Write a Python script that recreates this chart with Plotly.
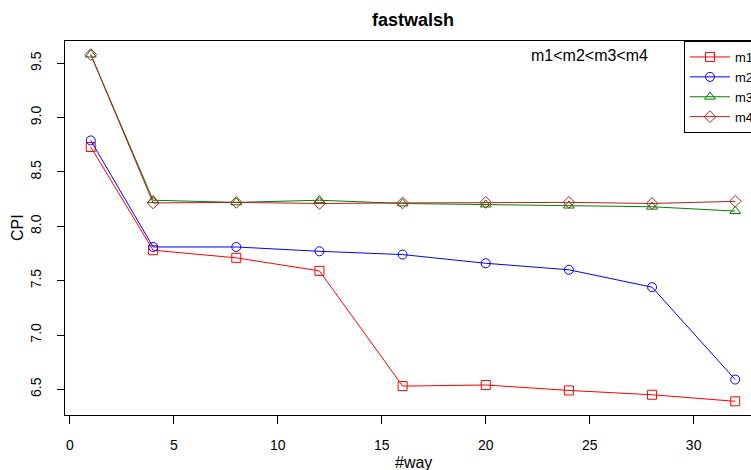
import plotly.graph_objects as go

# associativity (#way) and CPI for each configuration
ways = [1, 4, 8, 12, 16, 20, 24, 28, 32]
m1 = [8.73, 7.78, 7.71, 7.59, 6.53, 6.54, 6.49, 6.45, 6.39]
m2 = [8.79, 7.81, 7.81, 7.77, 7.74, 7.66, 7.60, 7.44, 6.59]
m3 = [9.58, 8.24, 8.22, 8.24, 8.21, 8.20, 8.19, 8.18, 8.14]
m4 = [9.58, 8.215, 8.22, 8.21, 8.215, 8.22, 8.22, 8.21, 8.23]

series_names = ["m1", "m2", "m3", "m4"]
series_vals = [m1, m2, m3, m4]
colors = ["#FF0000", "#0000FF", "#008000", "#B22222"]
symbols = ["square-open", "circle-open", "triangle-up-open", "diamond-open"]
sizes = [9, 9, 9.5, 9]

FONT = "Liberation Sans, Arial, Helvetica, sans-serif"

fig = go.Figure()
for name, vals, c, s, sz in zip(series_names, series_vals, colors, symbols, sizes):
    fig.add_trace(go.Scatter(
        x=ways, y=vals, name=name, mode="lines+markers",
        line=dict(color=c, width=1),
        marker=dict(symbol=s, size=sz, color=c, line=dict(color=c, width=1)),
        cliponaxis=False,
    ))

# the canvas is wider than the viewport; the right strip (plot edge and legend text) runs off-screen
W, H = 775, 470
L, R, T, B = 65, 14, 41, 55
PW = W - L - R

fig.update_layout(
    width=W, height=H,
    margin=dict(l=L, r=R, t=T, b=B, pad=0),
    paper_bgcolor="white", plot_bgcolor="white",
    font=dict(family=FONT, size=14, color="black"),
    showlegend=True,
    legend=dict(
        x=(684 - L) / PW, y=1.0, xanchor="left", yanchor="top",
        bordercolor="black", borderwidth=1, bgcolor="white",
        font=dict(family=FONT, size=13, color="black"),
        itemwidth=40, tracegroupgap=0,
    ),
    xaxis=dict(
        range=[-0.24, 33.24], tickvals=[0, 5, 10, 15, 20, 25, 30],
        showgrid=False, zeroline=False,
        showline=True, linecolor="black", linewidth=1, mirror=True,
        ticks="outside", ticklen=8, tickcolor="black",
        tickfont=dict(family=FONT, size=14), ticklabelstandoff=9,
    ),
    yaxis=dict(
        range=[6.264, 9.705], tickvals=[6.5, 7.0, 7.5, 8.0, 8.5, 9.0, 9.5],
        ticktext=["6.5", "7.0", "7.5", "8.0", "8.5", "9.0", "9.5"],
        showgrid=False, zeroline=False,
        showline=True, linecolor="black", linewidth=1, mirror=True,
        ticks="outside", ticklen=7, tickcolor="black", tickangle=-90,
        tickfont=dict(family=FONT, size=14), ticklabelstandoff=10,
    ),
    annotations=[
        dict(text="<b>fastwalsh</b>", xref="paper", yref="paper",
             x=(413 - L) / PW, y=1, yshift=21, showarrow=False,
             font=dict(family=FONT, size=18), xanchor="center", yanchor="middle"),
        dict(text="m1<m2<m3<m4", xref="paper", yref="paper",
             x=(589 - L) / PW, y=1, yshift=-14, showarrow=False,
             font=dict(family=FONT, size=16), xanchor="center", yanchor="middle"),
        dict(text="#way", xref="paper", yref="paper",
             x=(413 - L) / PW, y=0, yshift=-47, showarrow=False,
             font=dict(family=FONT, size=16), xanchor="center", yanchor="middle"),
        dict(text="CPI", xref="paper", yref="paper", textangle=-90,
             x=0, xshift=-(L - 17), y=0.5, showarrow=False,
             font=dict(family=FONT, size=16), xanchor="center", yanchor="middle"),
    ],
)

fig.write_html(
    "out.html",
    post_script="document.documentElement.style.overflow='hidden';"
                "document.body.style.overflow='hidden';",
)
